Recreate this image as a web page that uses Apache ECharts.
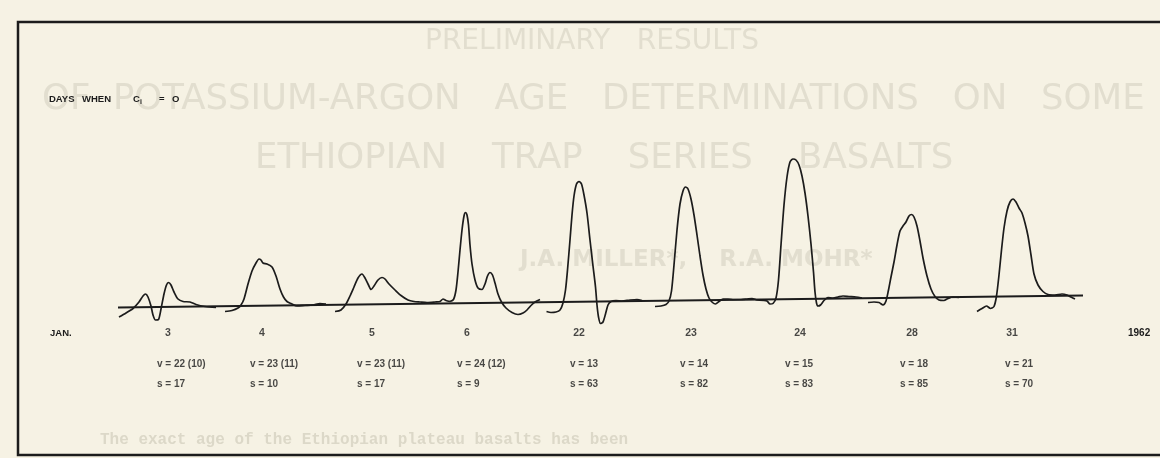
<!DOCTYPE html>
<html>
<head>
<meta charset="utf-8">
<script src="https://cdn.jsdelivr.net/npm/echarts@6/dist/echarts.min.js"></script>
<style>
html,body{margin:0;padding:0;background:#f6f2e4;}
#chart{width:1160px;height:458px;}
</style>
</head>
<body>
<div id="chart"></div>
<script>
// ---- data: [position, deflection] ----
const baseline = [[118,150.5],[1083,162.5]];
const traceJan3 = [[119,141],[126,145],[133,149.5],[139,156],[143,162],[145.5,164],[148,161],[151,152],[153,143],[155.5,138],[158.5,138.5],[161,149],[164,164],[166.5,173],[168.5,175.5],[171,173],[174,166],[178,159],[183,156.5],[190,156],[196,153.5],[205,151.5],[216,150.5]];
const traceJan4 = [[225,146.5],[232,147.5],[238,150],[241,153],[244,159],[248,174],[252,187],[256,195],[259,199],[261,198],[263,195],[267,194],[272,191],[276,182],[280,169],[283.5,161],[287,156.5],[291,154.5],[297,152],[305,152.5],[313,153],[320,154.5],[326,154]];
const traceJan5 = [[335,146.5],[341,148],[346,154],[350,162],[354,171],[358,180],[362,184],[365,180],[368.5,173],[371,168.5],[374,172],[378,178],[382,180.5],[385,179],[389,174],[395,168],[401,162.5],[408,158],[414,156.5],[420,156],[427,155.5],[435,156],[440,156.5],[443,159],[446,157.5],[450,156.5]];
const traceJan6 = [[450,156.5],[453.5,158.5],[456,168],[458,186],[460,208],[462,228],[464,242],[465.5,245.5],[467,243],[468.5,233],[470,213],[472,194],[475,178],[478,170],[482,168.5],[485,174],[487.5,182],[490,185.5],[492.5,183],[495,175],[498,164],[501.5,156],[506,150],[512,145.5],[518,143.5],[523,145],[527,148],[531,152.5],[535,156],[540,158.5]];
const traceJan22 = [[546.5,146.5],[551,145.5],[556,146],[560,148],[563,155],[565.5,168],[567.5,188],[570,218],[572,243],[574,262],[576.5,274],[579,276.5],[581.5,274],[584,263],[587,245],[590,218],[593,192],[595.5,171],[597,153],[598.5,141],[600.5,134.5],[603,136],[605.5,144],[608,153],[611,156.5],[616,157.5],[622,157],[630,158],[637,158.5],[642,157.5]];
const traceJan23 = [[655,151.5],[661,152],[666,153.5],[669,157],[671.5,167],[674,193],[677,228],[680,254],[683,267],[685.5,271],[688,269],[691,259],[694,243],[697,223],[700,202],[703,183],[706,169],[709,160],[712.5,155.5],[715.5,154],[719,156.5],[723,159],[728,159],[734,158.5],[741,158.5],[747,159],[752,159.5],[757,158],[764,157.5]];
const traceJan24 = [[764,157.5],[767,157],[770,154],[773,154.5],[776,160],[778.5,178],[781,213],[784,253],[787,281],[790,296],[793,299],[796,298],[799,293],[802,282],[805,265],[808,242],[811,214],[813.5,186],[815,166],[816.5,155],[818,152],[820.5,153],[824,157.5],[828,160.5],[833,160],[838,161],[843,162],[849,161.5],[856,161],[862,160]];
const traceJan28 = [[868,155.5],[874,156],[879,155.5],[883,153],[886,157],[888.5,168],[891,181],[894,196],[897,213],[900,227],[903,232],[906,236],[909,242],[911.5,243.5],[914,241],[917,232],[920,217],[923,200],[927,182],[931,169],[935,161.5],[939,158],[944,157.5],[948,159.5],[953,161],[959,160.5]];
const traceJan31 = [[977,146.5],[982,149.5],[986.5,152],[990.5,149.5],[994,151.5],[996.5,162],[999,183],[1001.5,208],[1004,230],[1007,247],[1010,256],[1013,259],[1016,256],[1019,250],[1022,245],[1025,235],[1028,222],[1031,203],[1034,184],[1038,173],[1043,166.5],[1048,163.5],[1055,163],[1062,164],[1067,163],[1071,161],[1075,159]];

const traces = [traceJan3, traceJan4, traceJan5, traceJan6, traceJan22, traceJan23, traceJan24, traceJan28, traceJan31];

const dayLabels = ['3','4','5','6','22','23','24','28','31'];
const vLabels = ['v = 22 (10)','v = 23 (11)','v = 23 (11)','v = 24 (12)','v = 13','v = 14','v = 15','v = 18','v = 21'];
const sLabels = ['s = 17','s = 10','s = 17','s = 9','s = 63','s = 82','s = 83','s = 85','s = 70'];

// label anchor positions (layout)
const dayPos = [168, 262, 372, 467, 579, 691, 800, 912, 1012];
const statPos = [157, 250, 357, 457, 570, 680, 785, 900, 1005];
const dayRowY = 125, vRowY = 94, sRowY = 74;

const ink = '#1c1c1c';
const labelFont = {fontFamily:'Liberation Sans', fontWeight:'bold', color:ink};

const series = [];
series.push({type:'line', data: baseline, showSymbol:false, silent:true,
  lineStyle:{color:ink, width:1.8}, z:3});
traces.forEach(t => series.push({type:'line', data:t, showSymbol:false, silent:true, smooth:0.25,
  lineStyle:{color:ink, width:1.7}, z:4}));

series.push({type:'scatter', symbolSize:0, silent:true,
  data: dayLabels.map((d,i)=>({value:[dayPos[i], dayRowY], name:d})),
  label:{show:true, position:[0,0], align:'center', verticalAlign:'middle', formatter: p=>p.name, fontSize:10.5, ...labelFont}});
series.push({type:'scatter', symbolSize:0, silent:true,
  data: vLabels.map((d,i)=>({value:[statPos[i], vRowY], name:d})),
  label:{show:true, position:[0,0], align:'left', verticalAlign:'middle', formatter: p=>p.name, fontSize:10, ...labelFont}});
series.push({type:'scatter', symbolSize:0, silent:true,
  data: sLabels.map((d,i)=>({value:[statPos[i], sRowY], name:d})),
  label:{show:true, position:[0,0], align:'left', verticalAlign:'middle', formatter: p=>p.name, fontSize:10, ...labelFont}});

const ghost = '#e2decf';
const chart = echarts.init(document.getElementById('chart'), null, {renderer:'canvas'});
chart.setOption({
  backgroundColor:'#f6f2e4',
  animation:false,
  grid:{left:0, right:0, top:0, bottom:0},
  xAxis:{type:'value', min:0, max:1160, show:false},
  yAxis:{type:'value', min:0, max:458, show:false},
  graphic:[
    // show-through text from the reverse page
    {type:'text', left:425, top:28, silent:true, z:0, style:{text:'PRELIMINARY   RESULTS', fill:ghost, font:'28px "DejaVu Sans"'}},
    {type:'text', left:42, top:82, silent:true, z:0, style:{text:'OF  POTASSIUM-ARGON   AGE   DETERMINATIONS   ON   SOME', fill:ghost, font:'35.5px "DejaVu Sans"'}},
    {type:'text', left:255, top:141, silent:true, z:0, style:{text:'ETHIOPIAN    TRAP    SERIES    BASALTS', fill:ghost, font:'35.5px "DejaVu Sans"'}},
    {type:'text', left:520, top:249, silent:true, z:0, style:{text:'J.A. MILLER*,    R.A. MOHR*', fill:ghost, font:'bold 23px "DejaVu Sans"'}},
    {type:'text', left:100, top:432, silent:true, z:0, style:{text:'The exact age of the Ethiopian plateau basalts has been', fill:'#dcd8c8', font:'bold 16px "Liberation Mono"'}},
    // frame
    {type:'rect', silent:true, z:1, shape:{x:18, y:22, width:1170, height:433},
      style:{fill:'none', stroke:ink, lineWidth:2.5}},
    // annotations
    {type:'text', left:49, top:94, z:5, style:{text:'DAYS', fill:ink, font:'bold 9.5px "Liberation Sans"'}},
    {type:'text', left:82, top:94, z:5, style:{text:'WHEN', fill:ink, font:'bold 9.5px "Liberation Sans"'}},
    {type:'text', left:133, top:94, z:5, style:{text:'C', fill:ink, font:'bold 9.5px "Liberation Sans"'}},
    {type:'text', left:140, top:99, z:5, style:{text:'i', fill:ink, font:'bold 7px "Liberation Sans"'}},
    {type:'text', left:159, top:94, z:5, style:{text:'=', fill:ink, font:'bold 9.5px "Liberation Sans"'}},
    {type:'text', left:172, top:94, z:5, style:{text:'O', fill:ink, font:'bold 9.5px "Liberation Sans"'}},
    {type:'text', left:50, top:328, z:5, style:{text:'JAN.', fill:ink, font:'bold 9.5px "Liberation Sans"'}},
    {type:'text', left:1128, top:328, z:5, style:{text:'1962', fill:ink, font:'bold 10px "Liberation Sans"'}}
  ],
  series: series
});
</script>
</body>
</html>
